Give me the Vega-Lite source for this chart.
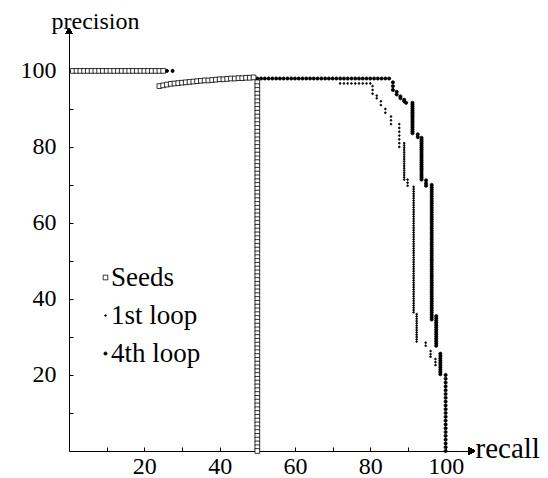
{
  "$schema": "https://vega.github.io/schema/vega-lite/v6.json",
  "width": 403,
  "height": 420,
  "autosize": {"type": "none"},
  "padding": {"left": 69, "top": 31, "right": 76, "bottom": 27},
  "background": "white",
  "config": {
    "view": {"stroke": null},
    "font": "Liberation Serif",
    "axis": {
      "grid": false,
      "domainColor": "black",
      "domainWidth": 1,
      "tickColor": "black",
      "tickWidth": 1,
      "tickSize": -4,
      "labelColor": "black",
      "titleColor": "black",
      "labelFont": "Liberation Serif",
      "titleFont": "Liberation Serif",
      "labelFontSize": 24,
      "titleFontWeight": "normal"
    }
  },
  "data": {
    "values": [
      {"series": "1st loop", "recall": 2, "precision": 100},
      {"series": "1st loop", "recall": 5, "precision": 100},
      {"series": "1st loop", "recall": 8, "precision": 100},
      {"series": "1st loop", "recall": 11, "precision": 100},
      {"series": "1st loop", "recall": 14, "precision": 100},
      {"series": "1st loop", "recall": 17, "precision": 100},
      {"series": "1st loop", "recall": 20, "precision": 100},
      {"series": "1st loop", "recall": 23, "precision": 100},
      {"series": "1st loop", "recall": 26, "precision": 100},
      {"series": "1st loop", "recall": 27.5, "precision": 100},
      {"series": "1st loop", "recall": 30, "precision": 96.9},
      {"series": "1st loop", "recall": 35, "precision": 97.4},
      {"series": "1st loop", "recall": 40, "precision": 97.8},
      {"series": "1st loop", "recall": 45, "precision": 98.1},
      {"series": "1st loop", "recall": 50, "precision": 98},
      {"series": "1st loop", "recall": 51, "precision": 98},
      {"series": "1st loop", "recall": 52, "precision": 98},
      {"series": "1st loop", "recall": 53, "precision": 98},
      {"series": "1st loop", "recall": 54, "precision": 98},
      {"series": "1st loop", "recall": 55, "precision": 98},
      {"series": "1st loop", "recall": 56, "precision": 98},
      {"series": "1st loop", "recall": 57, "precision": 98},
      {"series": "1st loop", "recall": 58, "precision": 98},
      {"series": "1st loop", "recall": 59, "precision": 98},
      {"series": "1st loop", "recall": 60, "precision": 98},
      {"series": "1st loop", "recall": 61, "precision": 98},
      {"series": "1st loop", "recall": 62, "precision": 98},
      {"series": "1st loop", "recall": 63, "precision": 98},
      {"series": "1st loop", "recall": 64, "precision": 98},
      {"series": "1st loop", "recall": 65, "precision": 98},
      {"series": "1st loop", "recall": 66, "precision": 98},
      {"series": "1st loop", "recall": 67, "precision": 98},
      {"series": "1st loop", "recall": 68, "precision": 98},
      {"series": "1st loop", "recall": 69, "precision": 98},
      {"series": "1st loop", "recall": 70, "precision": 98},
      {"series": "1st loop", "recall": 71, "precision": 98},
      {"series": "1st loop", "recall": 72, "precision": 96.7},
      {"series": "1st loop", "recall": 73, "precision": 96.7},
      {"series": "1st loop", "recall": 74, "precision": 96.7},
      {"series": "1st loop", "recall": 75, "precision": 96.7},
      {"series": "1st loop", "recall": 76, "precision": 96.7},
      {"series": "1st loop", "recall": 77, "precision": 96.7},
      {"series": "1st loop", "recall": 78, "precision": 96.7},
      {"series": "1st loop", "recall": 79, "precision": 96.7},
      {"series": "1st loop", "recall": 80, "precision": 96.7},
      {"series": "1st loop", "recall": 80.6, "precision": 96},
      {"series": "1st loop", "recall": 80.6, "precision": 95},
      {"series": "1st loop", "recall": 80.6, "precision": 94},
      {"series": "1st loop", "recall": 81.7, "precision": 93.5},
      {"series": "1st loop", "recall": 81.7, "precision": 92.8},
      {"series": "1st loop", "recall": 82.8, "precision": 92},
      {"series": "1st loop", "recall": 82.8, "precision": 91},
      {"series": "1st loop", "recall": 84, "precision": 90},
      {"series": "1st loop", "recall": 84, "precision": 89},
      {"series": "1st loop", "recall": 85.5, "precision": 88},
      {"series": "1st loop", "recall": 85.5, "precision": 87},
      {"series": "1st loop", "recall": 85.5, "precision": 86},
      {"series": "1st loop", "recall": 87.7, "precision": 86},
      {"series": "1st loop", "recall": 87.7, "precision": 85},
      {"series": "1st loop", "recall": 87.7, "precision": 84},
      {"series": "1st loop", "recall": 87.7, "precision": 83},
      {"series": "1st loop", "recall": 87.7, "precision": 82},
      {"series": "1st loop", "recall": 87.7, "precision": 81},
      {"series": "1st loop", "recall": 87.7, "precision": 80},
      {"series": "1st loop", "recall": 89, "precision": 81},
      {"series": "1st loop", "recall": 89, "precision": 80.4},
      {"series": "1st loop", "recall": 89, "precision": 79.8},
      {"series": "1st loop", "recall": 89, "precision": 79.2},
      {"series": "1st loop", "recall": 89, "precision": 78.6},
      {"series": "1st loop", "recall": 89, "precision": 78},
      {"series": "1st loop", "recall": 89, "precision": 77.4},
      {"series": "1st loop", "recall": 89, "precision": 76.8},
      {"series": "1st loop", "recall": 89, "precision": 76.2},
      {"series": "1st loop", "recall": 89, "precision": 75.6},
      {"series": "1st loop", "recall": 89, "precision": 75},
      {"series": "1st loop", "recall": 89, "precision": 74.4},
      {"series": "1st loop", "recall": 89, "precision": 73.8},
      {"series": "1st loop", "recall": 89, "precision": 73.2},
      {"series": "1st loop", "recall": 89, "precision": 72.6},
      {"series": "1st loop", "recall": 89, "precision": 72},
      {"series": "1st loop", "recall": 89, "precision": 71.4},
      {"series": "1st loop", "recall": 89.9, "precision": 71.4},
      {"series": "1st loop", "recall": 89.9, "precision": 70.6},
      {"series": "1st loop", "recall": 89.9, "precision": 69.8},
      {"series": "1st loop", "recall": 91.5, "precision": 69.5},
      {"series": "1st loop", "recall": 91.5, "precision": 68.9},
      {"series": "1st loop", "recall": 91.5, "precision": 68.3},
      {"series": "1st loop", "recall": 91.5, "precision": 67.7},
      {"series": "1st loop", "recall": 91.5, "precision": 67.1},
      {"series": "1st loop", "recall": 91.5, "precision": 66.5},
      {"series": "1st loop", "recall": 91.5, "precision": 65.9},
      {"series": "1st loop", "recall": 91.5, "precision": 65.3},
      {"series": "1st loop", "recall": 91.5, "precision": 64.7},
      {"series": "1st loop", "recall": 91.5, "precision": 64.1},
      {"series": "1st loop", "recall": 91.5, "precision": 63.5},
      {"series": "1st loop", "recall": 91.5, "precision": 62.9},
      {"series": "1st loop", "recall": 91.5, "precision": 62.3},
      {"series": "1st loop", "recall": 91.5, "precision": 61.7},
      {"series": "1st loop", "recall": 91.5, "precision": 61.1},
      {"series": "1st loop", "recall": 91.5, "precision": 60.5},
      {"series": "1st loop", "recall": 91.5, "precision": 59.9},
      {"series": "1st loop", "recall": 91.5, "precision": 59.3},
      {"series": "1st loop", "recall": 91.5, "precision": 58.7},
      {"series": "1st loop", "recall": 91.5, "precision": 58.1},
      {"series": "1st loop", "recall": 91.5, "precision": 57.5},
      {"series": "1st loop", "recall": 91.5, "precision": 56.9},
      {"series": "1st loop", "recall": 91.5, "precision": 56.3},
      {"series": "1st loop", "recall": 91.5, "precision": 55.7},
      {"series": "1st loop", "recall": 91.5, "precision": 55.1},
      {"series": "1st loop", "recall": 91.5, "precision": 54.5},
      {"series": "1st loop", "recall": 91.5, "precision": 53.9},
      {"series": "1st loop", "recall": 91.5, "precision": 53.3},
      {"series": "1st loop", "recall": 91.5, "precision": 52.7},
      {"series": "1st loop", "recall": 91.5, "precision": 52.1},
      {"series": "1st loop", "recall": 91.5, "precision": 51.5},
      {"series": "1st loop", "recall": 91.5, "precision": 50.9},
      {"series": "1st loop", "recall": 91.5, "precision": 50.3},
      {"series": "1st loop", "recall": 91.5, "precision": 49.7},
      {"series": "1st loop", "recall": 91.5, "precision": 49.1},
      {"series": "1st loop", "recall": 91.5, "precision": 48.5},
      {"series": "1st loop", "recall": 91.5, "precision": 47.9},
      {"series": "1st loop", "recall": 91.5, "precision": 47.3},
      {"series": "1st loop", "recall": 91.5, "precision": 46.7},
      {"series": "1st loop", "recall": 91.5, "precision": 46.1},
      {"series": "1st loop", "recall": 91.5, "precision": 45.5},
      {"series": "1st loop", "recall": 91.5, "precision": 44.9},
      {"series": "1st loop", "recall": 91.5, "precision": 44.3},
      {"series": "1st loop", "recall": 91.5, "precision": 43.7},
      {"series": "1st loop", "recall": 91.5, "precision": 43.1},
      {"series": "1st loop", "recall": 91.5, "precision": 42.5},
      {"series": "1st loop", "recall": 91.5, "precision": 41.9},
      {"series": "1st loop", "recall": 91.5, "precision": 41.3},
      {"series": "1st loop", "recall": 91.5, "precision": 40.7},
      {"series": "1st loop", "recall": 91.5, "precision": 40.1},
      {"series": "1st loop", "recall": 91.5, "precision": 39.5},
      {"series": "1st loop", "recall": 91.5, "precision": 38.9},
      {"series": "1st loop", "recall": 91.5, "precision": 38.3},
      {"series": "1st loop", "recall": 91.5, "precision": 37.7},
      {"series": "1st loop", "recall": 91.5, "precision": 37.1},
      {"series": "1st loop", "recall": 91.5, "precision": 36.5},
      {"series": "1st loop", "recall": 92.3, "precision": 36},
      {"series": "1st loop", "recall": 92.3, "precision": 35.4},
      {"series": "1st loop", "recall": 92.3, "precision": 34.8},
      {"series": "1st loop", "recall": 92.3, "precision": 34.2},
      {"series": "1st loop", "recall": 92.3, "precision": 33.6},
      {"series": "1st loop", "recall": 92.3, "precision": 33},
      {"series": "1st loop", "recall": 92.3, "precision": 32.4},
      {"series": "1st loop", "recall": 92.3, "precision": 31.8},
      {"series": "1st loop", "recall": 92.3, "precision": 31.2},
      {"series": "1st loop", "recall": 92.3, "precision": 30.6},
      {"series": "1st loop", "recall": 92.3, "precision": 30},
      {"series": "1st loop", "recall": 92.3, "precision": 29.4},
      {"series": "1st loop", "recall": 92.3, "precision": 28.8},
      {"series": "1st loop", "recall": 94.7, "precision": 28.5},
      {"series": "1st loop", "recall": 94.7, "precision": 27.7},
      {"series": "1st loop", "recall": 96, "precision": 26.3},
      {"series": "1st loop", "recall": 96, "precision": 25.5},
      {"series": "1st loop", "recall": 96, "precision": 24.8},
      {"series": "1st loop", "recall": 97.3, "precision": 24.2},
      {"series": "1st loop", "recall": 97.3, "precision": 23.4},
      {"series": "1st loop", "recall": 97.3, "precision": 22.6},
      {"series": "1st loop", "recall": 98.6, "precision": 21.8},
      {"series": "1st loop", "recall": 98.6, "precision": 21},
      {"series": "1st loop", "recall": 100, "precision": 20},

      {"series": "4th loop", "recall": 1, "precision": 100},
      {"series": "4th loop", "recall": 4, "precision": 100},
      {"series": "4th loop", "recall": 7, "precision": 100},
      {"series": "4th loop", "recall": 10, "precision": 100},
      {"series": "4th loop", "recall": 13, "precision": 100},
      {"series": "4th loop", "recall": 16, "precision": 100},
      {"series": "4th loop", "recall": 19, "precision": 100},
      {"series": "4th loop", "recall": 22, "precision": 100},
      {"series": "4th loop", "recall": 25, "precision": 100},
      {"series": "4th loop", "recall": 26, "precision": 100},
      {"series": "4th loop", "recall": 27.5, "precision": 100},
      {"series": "4th loop", "recall": 30, "precision": 96.9},
      {"series": "4th loop", "recall": 35, "precision": 97.4},
      {"series": "4th loop", "recall": 40, "precision": 97.8},
      {"series": "4th loop", "recall": 45, "precision": 98.1},
      {"series": "4th loop", "recall": 50, "precision": 98},
      {"series": "4th loop", "recall": 51, "precision": 98},
      {"series": "4th loop", "recall": 52, "precision": 98},
      {"series": "4th loop", "recall": 53, "precision": 98},
      {"series": "4th loop", "recall": 54, "precision": 98},
      {"series": "4th loop", "recall": 55, "precision": 98},
      {"series": "4th loop", "recall": 56, "precision": 98},
      {"series": "4th loop", "recall": 57, "precision": 98},
      {"series": "4th loop", "recall": 58, "precision": 98},
      {"series": "4th loop", "recall": 59, "precision": 98},
      {"series": "4th loop", "recall": 60, "precision": 98},
      {"series": "4th loop", "recall": 61, "precision": 98},
      {"series": "4th loop", "recall": 62, "precision": 98},
      {"series": "4th loop", "recall": 63, "precision": 98},
      {"series": "4th loop", "recall": 64, "precision": 98},
      {"series": "4th loop", "recall": 65, "precision": 98},
      {"series": "4th loop", "recall": 66, "precision": 98},
      {"series": "4th loop", "recall": 67, "precision": 98},
      {"series": "4th loop", "recall": 68, "precision": 98},
      {"series": "4th loop", "recall": 69, "precision": 98},
      {"series": "4th loop", "recall": 70, "precision": 98},
      {"series": "4th loop", "recall": 71, "precision": 98},
      {"series": "4th loop", "recall": 72, "precision": 98},
      {"series": "4th loop", "recall": 73, "precision": 98},
      {"series": "4th loop", "recall": 74, "precision": 98},
      {"series": "4th loop", "recall": 75, "precision": 98},
      {"series": "4th loop", "recall": 76, "precision": 98},
      {"series": "4th loop", "recall": 77, "precision": 98},
      {"series": "4th loop", "recall": 78, "precision": 98},
      {"series": "4th loop", "recall": 79, "precision": 98},
      {"series": "4th loop", "recall": 80, "precision": 98},
      {"series": "4th loop", "recall": 81, "precision": 98},
      {"series": "4th loop", "recall": 82, "precision": 98},
      {"series": "4th loop", "recall": 83, "precision": 98},
      {"series": "4th loop", "recall": 84, "precision": 98},
      {"series": "4th loop", "recall": 85, "precision": 98},
      {"series": "4th loop", "recall": 86, "precision": 97},
      {"series": "4th loop", "recall": 86, "precision": 96},
      {"series": "4th loop", "recall": 86, "precision": 95},
      {"series": "4th loop", "recall": 87, "precision": 94.5},
      {"series": "4th loop", "recall": 87, "precision": 93.8},
      {"series": "4th loop", "recall": 88, "precision": 93.3},
      {"series": "4th loop", "recall": 88, "precision": 92.8},
      {"series": "4th loop", "recall": 89, "precision": 92.4},
      {"series": "4th loop", "recall": 89, "precision": 92},
      {"series": "4th loop", "recall": 89.5, "precision": 91.6},
      {"series": "4th loop", "recall": 91.2, "precision": 91.6},
      {"series": "4th loop", "recall": 91.2, "precision": 91.1},
      {"series": "4th loop", "recall": 91.2, "precision": 90.6},
      {"series": "4th loop", "recall": 91.2, "precision": 90.1},
      {"series": "4th loop", "recall": 91.2, "precision": 89.6},
      {"series": "4th loop", "recall": 91.2, "precision": 89.1},
      {"series": "4th loop", "recall": 91.2, "precision": 88.6},
      {"series": "4th loop", "recall": 91.2, "precision": 88.1},
      {"series": "4th loop", "recall": 91.2, "precision": 87.6},
      {"series": "4th loop", "recall": 91.2, "precision": 87.1},
      {"series": "4th loop", "recall": 91.2, "precision": 86.6},
      {"series": "4th loop", "recall": 91.2, "precision": 86.1},
      {"series": "4th loop", "recall": 91.2, "precision": 85.6},
      {"series": "4th loop", "recall": 91.2, "precision": 85.1},
      {"series": "4th loop", "recall": 91.2, "precision": 84.6},
      {"series": "4th loop", "recall": 91.2, "precision": 84.1},
      {"series": "4th loop", "recall": 91.2, "precision": 83.6},
      {"series": "4th loop", "recall": 92.6, "precision": 83.3},
      {"series": "4th loop", "recall": 92.6, "precision": 82.6},
      {"series": "4th loop", "recall": 93.6, "precision": 82.4},
      {"series": "4th loop", "recall": 93.6, "precision": 81.9},
      {"series": "4th loop", "recall": 93.6, "precision": 81.4},
      {"series": "4th loop", "recall": 93.6, "precision": 80.9},
      {"series": "4th loop", "recall": 93.6, "precision": 80.4},
      {"series": "4th loop", "recall": 93.6, "precision": 79.9},
      {"series": "4th loop", "recall": 93.6, "precision": 79.4},
      {"series": "4th loop", "recall": 93.6, "precision": 78.9},
      {"series": "4th loop", "recall": 93.6, "precision": 78.4},
      {"series": "4th loop", "recall": 93.6, "precision": 77.9},
      {"series": "4th loop", "recall": 93.6, "precision": 77.4},
      {"series": "4th loop", "recall": 93.6, "precision": 76.9},
      {"series": "4th loop", "recall": 93.6, "precision": 76.4},
      {"series": "4th loop", "recall": 93.6, "precision": 75.9},
      {"series": "4th loop", "recall": 93.6, "precision": 75.4},
      {"series": "4th loop", "recall": 93.6, "precision": 74.9},
      {"series": "4th loop", "recall": 93.6, "precision": 74.4},
      {"series": "4th loop", "recall": 93.6, "precision": 73.9},
      {"series": "4th loop", "recall": 93.6, "precision": 73.4},
      {"series": "4th loop", "recall": 93.6, "precision": 72.9},
      {"series": "4th loop", "recall": 93.6, "precision": 72.4},
      {"series": "4th loop", "recall": 93.6, "precision": 71.9},
      {"series": "4th loop", "recall": 93.6, "precision": 71.4},
      {"series": "4th loop", "recall": 94.8, "precision": 71.2},
      {"series": "4th loop", "recall": 94.8, "precision": 70.4},
      {"series": "4th loop", "recall": 94.8, "precision": 69.8},
      {"series": "4th loop", "recall": 96.3, "precision": 70},
      {"series": "4th loop", "recall": 96.3, "precision": 69.4},
      {"series": "4th loop", "recall": 96.3, "precision": 68.8},
      {"series": "4th loop", "recall": 96.3, "precision": 68.2},
      {"series": "4th loop", "recall": 96.3, "precision": 67.6},
      {"series": "4th loop", "recall": 96.3, "precision": 67},
      {"series": "4th loop", "recall": 96.3, "precision": 66.4},
      {"series": "4th loop", "recall": 96.3, "precision": 65.8},
      {"series": "4th loop", "recall": 96.3, "precision": 65.2},
      {"series": "4th loop", "recall": 96.3, "precision": 64.6},
      {"series": "4th loop", "recall": 96.3, "precision": 64},
      {"series": "4th loop", "recall": 96.3, "precision": 63.4},
      {"series": "4th loop", "recall": 96.3, "precision": 62.8},
      {"series": "4th loop", "recall": 96.3, "precision": 62.2},
      {"series": "4th loop", "recall": 96.3, "precision": 61.6},
      {"series": "4th loop", "recall": 96.3, "precision": 61},
      {"series": "4th loop", "recall": 96.3, "precision": 60.4},
      {"series": "4th loop", "recall": 96.3, "precision": 59.8},
      {"series": "4th loop", "recall": 96.3, "precision": 59.2},
      {"series": "4th loop", "recall": 96.3, "precision": 58.6},
      {"series": "4th loop", "recall": 96.3, "precision": 58},
      {"series": "4th loop", "recall": 96.3, "precision": 57.4},
      {"series": "4th loop", "recall": 96.3, "precision": 56.8},
      {"series": "4th loop", "recall": 96.3, "precision": 56.2},
      {"series": "4th loop", "recall": 96.3, "precision": 55.6},
      {"series": "4th loop", "recall": 96.3, "precision": 55},
      {"series": "4th loop", "recall": 96.3, "precision": 54.4},
      {"series": "4th loop", "recall": 96.3, "precision": 53.8},
      {"series": "4th loop", "recall": 96.3, "precision": 53.2},
      {"series": "4th loop", "recall": 96.3, "precision": 52.6},
      {"series": "4th loop", "recall": 96.3, "precision": 52},
      {"series": "4th loop", "recall": 96.3, "precision": 51.4},
      {"series": "4th loop", "recall": 96.3, "precision": 50.8},
      {"series": "4th loop", "recall": 96.3, "precision": 50.2},
      {"series": "4th loop", "recall": 96.3, "precision": 49.6},
      {"series": "4th loop", "recall": 96.3, "precision": 49},
      {"series": "4th loop", "recall": 96.3, "precision": 48.4},
      {"series": "4th loop", "recall": 96.3, "precision": 47.8},
      {"series": "4th loop", "recall": 96.3, "precision": 47.2},
      {"series": "4th loop", "recall": 96.3, "precision": 46.6},
      {"series": "4th loop", "recall": 96.3, "precision": 46},
      {"series": "4th loop", "recall": 96.3, "precision": 45.4},
      {"series": "4th loop", "recall": 96.3, "precision": 44.8},
      {"series": "4th loop", "recall": 96.3, "precision": 44.2},
      {"series": "4th loop", "recall": 96.3, "precision": 43.6},
      {"series": "4th loop", "recall": 96.3, "precision": 43},
      {"series": "4th loop", "recall": 96.3, "precision": 42.4},
      {"series": "4th loop", "recall": 96.3, "precision": 41.8},
      {"series": "4th loop", "recall": 96.3, "precision": 41.2},
      {"series": "4th loop", "recall": 96.3, "precision": 40.6},
      {"series": "4th loop", "recall": 96.3, "precision": 40},
      {"series": "4th loop", "recall": 96.3, "precision": 39.4},
      {"series": "4th loop", "recall": 96.3, "precision": 38.8},
      {"series": "4th loop", "recall": 96.3, "precision": 38.2},
      {"series": "4th loop", "recall": 96.3, "precision": 37.6},
      {"series": "4th loop", "recall": 96.3, "precision": 37},
      {"series": "4th loop", "recall": 96.3, "precision": 36.4},
      {"series": "4th loop", "recall": 96.3, "precision": 35.8},
      {"series": "4th loop", "recall": 96.3, "precision": 35.2},
      {"series": "4th loop", "recall": 96.3, "precision": 34.6},
      {"series": "4th loop", "recall": 97.5, "precision": 35.5},
      {"series": "4th loop", "recall": 97.5, "precision": 34.9},
      {"series": "4th loop", "recall": 97.5, "precision": 34.3},
      {"series": "4th loop", "recall": 97.5, "precision": 33.7},
      {"series": "4th loop", "recall": 97.5, "precision": 33.1},
      {"series": "4th loop", "recall": 97.5, "precision": 32.5},
      {"series": "4th loop", "recall": 97.5, "precision": 31.9},
      {"series": "4th loop", "recall": 97.5, "precision": 31.3},
      {"series": "4th loop", "recall": 97.5, "precision": 30.7},
      {"series": "4th loop", "recall": 97.5, "precision": 30.1},
      {"series": "4th loop", "recall": 97.5, "precision": 29.5},
      {"series": "4th loop", "recall": 97.5, "precision": 28.9},
      {"series": "4th loop", "recall": 97.5, "precision": 28.3},
      {"series": "4th loop", "recall": 97.5, "precision": 27.7},
      {"series": "4th loop", "recall": 98.6, "precision": 25.6},
      {"series": "4th loop", "recall": 98.6, "precision": 25},
      {"series": "4th loop", "recall": 98.6, "precision": 24.4},
      {"series": "4th loop", "recall": 98.6, "precision": 23.8},
      {"series": "4th loop", "recall": 98.6, "precision": 23.2},
      {"series": "4th loop", "recall": 98.6, "precision": 22.6},
      {"series": "4th loop", "recall": 98.6, "precision": 22},
      {"series": "4th loop", "recall": 98.6, "precision": 21.4},
      {"series": "4th loop", "recall": 98.6, "precision": 20.8},
      {"series": "4th loop", "recall": 98.6, "precision": 20.2},
      {"series": "4th loop", "recall": 100, "precision": 20},
      {"series": "4th loop", "recall": 100, "precision": 19},
      {"series": "4th loop", "recall": 100, "precision": 18},
      {"series": "4th loop", "recall": 100, "precision": 17},
      {"series": "4th loop", "recall": 100, "precision": 16},
      {"series": "4th loop", "recall": 100, "precision": 15},
      {"series": "4th loop", "recall": 100, "precision": 14},
      {"series": "4th loop", "recall": 100, "precision": 13},
      {"series": "4th loop", "recall": 100, "precision": 12},
      {"series": "4th loop", "recall": 100, "precision": 11},
      {"series": "4th loop", "recall": 100, "precision": 10},
      {"series": "4th loop", "recall": 100, "precision": 9},
      {"series": "4th loop", "recall": 100, "precision": 8},
      {"series": "4th loop", "recall": 100, "precision": 7},
      {"series": "4th loop", "recall": 100, "precision": 6},
      {"series": "4th loop", "recall": 100, "precision": 5},
      {"series": "4th loop", "recall": 100, "precision": 4},
      {"series": "4th loop", "recall": 100, "precision": 3},
      {"series": "4th loop", "recall": 100, "precision": 2},
      {"series": "4th loop", "recall": 100, "precision": 1},
      {"series": "4th loop", "recall": 100, "precision": 0},

      {"series": "Seeds", "recall": 1, "precision": 100},
      {"series": "Seeds", "recall": 2, "precision": 100},
      {"series": "Seeds", "recall": 3, "precision": 100},
      {"series": "Seeds", "recall": 4, "precision": 100},
      {"series": "Seeds", "recall": 5, "precision": 100},
      {"series": "Seeds", "recall": 6, "precision": 100},
      {"series": "Seeds", "recall": 7, "precision": 100},
      {"series": "Seeds", "recall": 8, "precision": 100},
      {"series": "Seeds", "recall": 9, "precision": 100},
      {"series": "Seeds", "recall": 10, "precision": 100},
      {"series": "Seeds", "recall": 11, "precision": 100},
      {"series": "Seeds", "recall": 12, "precision": 100},
      {"series": "Seeds", "recall": 13, "precision": 100},
      {"series": "Seeds", "recall": 14, "precision": 100},
      {"series": "Seeds", "recall": 15, "precision": 100},
      {"series": "Seeds", "recall": 16, "precision": 100},
      {"series": "Seeds", "recall": 17, "precision": 100},
      {"series": "Seeds", "recall": 18, "precision": 100},
      {"series": "Seeds", "recall": 19, "precision": 100},
      {"series": "Seeds", "recall": 20, "precision": 100},
      {"series": "Seeds", "recall": 21, "precision": 100},
      {"series": "Seeds", "recall": 22, "precision": 100},
      {"series": "Seeds", "recall": 23, "precision": 100},
      {"series": "Seeds", "recall": 24, "precision": 100},
      {"series": "Seeds", "recall": 25, "precision": 100},
      {"series": "Seeds", "recall": 24, "precision": 96.0},
      {"series": "Seeds", "recall": 25, "precision": 96.2},
      {"series": "Seeds", "recall": 26, "precision": 96.4},
      {"series": "Seeds", "recall": 27, "precision": 96.6},
      {"series": "Seeds", "recall": 28, "precision": 96.7},
      {"series": "Seeds", "recall": 29, "precision": 96.8},
      {"series": "Seeds", "recall": 30, "precision": 96.9},
      {"series": "Seeds", "recall": 31, "precision": 97.0},
      {"series": "Seeds", "recall": 32, "precision": 97.1},
      {"series": "Seeds", "recall": 33, "precision": 97.2},
      {"series": "Seeds", "recall": 34, "precision": 97.3},
      {"series": "Seeds", "recall": 35, "precision": 97.4},
      {"series": "Seeds", "recall": 36, "precision": 97.5},
      {"series": "Seeds", "recall": 37, "precision": 97.5},
      {"series": "Seeds", "recall": 38, "precision": 97.6},
      {"series": "Seeds", "recall": 39, "precision": 97.7},
      {"series": "Seeds", "recall": 40, "precision": 97.8},
      {"series": "Seeds", "recall": 41, "precision": 97.8},
      {"series": "Seeds", "recall": 42, "precision": 97.9},
      {"series": "Seeds", "recall": 43, "precision": 98.0},
      {"series": "Seeds", "recall": 44, "precision": 98.0},
      {"series": "Seeds", "recall": 45, "precision": 98.1},
      {"series": "Seeds", "recall": 46, "precision": 98.1},
      {"series": "Seeds", "recall": 47, "precision": 98.2},
      {"series": "Seeds", "recall": 48, "precision": 98.2},
      {"series": "Seeds", "recall": 49, "precision": 98.3},
      {"series": "Seeds", "recall": 50, "precision": 97},
      {"series": "Seeds", "recall": 50, "precision": 96},
      {"series": "Seeds", "recall": 50, "precision": 95},
      {"series": "Seeds", "recall": 50, "precision": 94},
      {"series": "Seeds", "recall": 50, "precision": 93},
      {"series": "Seeds", "recall": 50, "precision": 92},
      {"series": "Seeds", "recall": 50, "precision": 91},
      {"series": "Seeds", "recall": 50, "precision": 90},
      {"series": "Seeds", "recall": 50, "precision": 89},
      {"series": "Seeds", "recall": 50, "precision": 88},
      {"series": "Seeds", "recall": 50, "precision": 87},
      {"series": "Seeds", "recall": 50, "precision": 86},
      {"series": "Seeds", "recall": 50, "precision": 85},
      {"series": "Seeds", "recall": 50, "precision": 84},
      {"series": "Seeds", "recall": 50, "precision": 83},
      {"series": "Seeds", "recall": 50, "precision": 82},
      {"series": "Seeds", "recall": 50, "precision": 81},
      {"series": "Seeds", "recall": 50, "precision": 80},
      {"series": "Seeds", "recall": 50, "precision": 79},
      {"series": "Seeds", "recall": 50, "precision": 78},
      {"series": "Seeds", "recall": 50, "precision": 77},
      {"series": "Seeds", "recall": 50, "precision": 76},
      {"series": "Seeds", "recall": 50, "precision": 75},
      {"series": "Seeds", "recall": 50, "precision": 74},
      {"series": "Seeds", "recall": 50, "precision": 73},
      {"series": "Seeds", "recall": 50, "precision": 72},
      {"series": "Seeds", "recall": 50, "precision": 71},
      {"series": "Seeds", "recall": 50, "precision": 70},
      {"series": "Seeds", "recall": 50, "precision": 69},
      {"series": "Seeds", "recall": 50, "precision": 68},
      {"series": "Seeds", "recall": 50, "precision": 67},
      {"series": "Seeds", "recall": 50, "precision": 66},
      {"series": "Seeds", "recall": 50, "precision": 65},
      {"series": "Seeds", "recall": 50, "precision": 64},
      {"series": "Seeds", "recall": 50, "precision": 63},
      {"series": "Seeds", "recall": 50, "precision": 62},
      {"series": "Seeds", "recall": 50, "precision": 61},
      {"series": "Seeds", "recall": 50, "precision": 60},
      {"series": "Seeds", "recall": 50, "precision": 59},
      {"series": "Seeds", "recall": 50, "precision": 58},
      {"series": "Seeds", "recall": 50, "precision": 57},
      {"series": "Seeds", "recall": 50, "precision": 56},
      {"series": "Seeds", "recall": 50, "precision": 55},
      {"series": "Seeds", "recall": 50, "precision": 54},
      {"series": "Seeds", "recall": 50, "precision": 53},
      {"series": "Seeds", "recall": 50, "precision": 52},
      {"series": "Seeds", "recall": 50, "precision": 51},
      {"series": "Seeds", "recall": 50, "precision": 50},
      {"series": "Seeds", "recall": 50, "precision": 49},
      {"series": "Seeds", "recall": 50, "precision": 48},
      {"series": "Seeds", "recall": 50, "precision": 47},
      {"series": "Seeds", "recall": 50, "precision": 46},
      {"series": "Seeds", "recall": 50, "precision": 45},
      {"series": "Seeds", "recall": 50, "precision": 44},
      {"series": "Seeds", "recall": 50, "precision": 43},
      {"series": "Seeds", "recall": 50, "precision": 42},
      {"series": "Seeds", "recall": 50, "precision": 41},
      {"series": "Seeds", "recall": 50, "precision": 40},
      {"series": "Seeds", "recall": 50, "precision": 39},
      {"series": "Seeds", "recall": 50, "precision": 38},
      {"series": "Seeds", "recall": 50, "precision": 37},
      {"series": "Seeds", "recall": 50, "precision": 36},
      {"series": "Seeds", "recall": 50, "precision": 35},
      {"series": "Seeds", "recall": 50, "precision": 34},
      {"series": "Seeds", "recall": 50, "precision": 33},
      {"series": "Seeds", "recall": 50, "precision": 32},
      {"series": "Seeds", "recall": 50, "precision": 31},
      {"series": "Seeds", "recall": 50, "precision": 30},
      {"series": "Seeds", "recall": 50, "precision": 29},
      {"series": "Seeds", "recall": 50, "precision": 28},
      {"series": "Seeds", "recall": 50, "precision": 27},
      {"series": "Seeds", "recall": 50, "precision": 26},
      {"series": "Seeds", "recall": 50, "precision": 25},
      {"series": "Seeds", "recall": 50, "precision": 24},
      {"series": "Seeds", "recall": 50, "precision": 23},
      {"series": "Seeds", "recall": 50, "precision": 22},
      {"series": "Seeds", "recall": 50, "precision": 21},
      {"series": "Seeds", "recall": 50, "precision": 20},
      {"series": "Seeds", "recall": 50, "precision": 19},
      {"series": "Seeds", "recall": 50, "precision": 18},
      {"series": "Seeds", "recall": 50, "precision": 17},
      {"series": "Seeds", "recall": 50, "precision": 16},
      {"series": "Seeds", "recall": 50, "precision": 15},
      {"series": "Seeds", "recall": 50, "precision": 14},
      {"series": "Seeds", "recall": 50, "precision": 13},
      {"series": "Seeds", "recall": 50, "precision": 12},
      {"series": "Seeds", "recall": 50, "precision": 11},
      {"series": "Seeds", "recall": 50, "precision": 10},
      {"series": "Seeds", "recall": 50, "precision": 9},
      {"series": "Seeds", "recall": 50, "precision": 8},
      {"series": "Seeds", "recall": 50, "precision": 7},
      {"series": "Seeds", "recall": 50, "precision": 6},
      {"series": "Seeds", "recall": 50, "precision": 5},
      {"series": "Seeds", "recall": 50, "precision": 4},
      {"series": "Seeds", "recall": 50, "precision": 3},
      {"series": "Seeds", "recall": 50, "precision": 2},
      {"series": "Seeds", "recall": 50, "precision": 1},
      {"series": "Seeds", "recall": 50, "precision": 0}
    ]
  },
  "layer": [
    {
      "mark": {"type": "point", "opacity": 1, "stroke": "black", "strokeWidth": 0.8},
      "encoding": {
        "x": {
          "field": "recall",
          "type": "quantitative",
          "scale": {"domain": [0, 107], "nice": false, "zero": false},
          "axis": {
            "title": "recall",
            "titleFontSize": 29,
            "values": [10, 20, 30, 40, 50, 60, 70, 80, 90, 100],
            "labelExpr": "datum.value % 20 == 0 ? datum.label : ''",
            "labelPadding": 7,
            "titleAngle": 0,
            "titleAlign": "left",
            "titleBaseline": "middle",
            "titleX": 406,
            "titleY": -3
          }
        },
        "y": {
          "field": "precision",
          "type": "quantitative",
          "scale": {"domain": [0, 110.5], "nice": false, "zero": false},
          "axis": {
            "title": "precision",
            "titleFontSize": 24,
            "values": [10, 20, 30, 40, 50, 60, 70, 80, 90, 100],
            "labelExpr": "datum.value % 20 == 0 ? datum.label : ''",
            "labelPadding": 17,
            "titleAngle": 0,
            "titleAlign": "left",
            "titleBaseline": "middle",
            "titleX": -18,
            "titleY": -10
          }
        },
        "shape": {
          "field": "series",
          "type": "nominal",
          "scale": {"domain": ["Seeds", "1st loop", "4th loop"], "range": ["square", "circle", "circle"]},
          "legend": {
            "title": null,
            "orient": "none",
            "legendX": 23,
            "legendY": 233,
            "padding": 0,
            "labelFont": "Liberation Serif",
            "labelFontSize": 27,
            "labelColor": "black",
            "labelOffset": -8,
            "rowPadding": 10,
            "symbolStrokeColor": "black",
            "symbolStrokeWidth": 0.8
          }
        },
        "size": {
          "field": "series",
          "type": "nominal",
          "scale": {"type": "ordinal", "domain": ["Seeds", "1st loop", "4th loop"], "range": [22, 3, 10]}
        },
        "fill": {
          "field": "series",
          "type": "nominal",
          "scale": {"domain": ["Seeds", "1st loop", "4th loop"], "range": ["white", "black", "black"]}
        }
      }
    },
    {
      "mark": {"type": "point", "shape": "triangle-right", "filled": true, "color": "black", "opacity": 1, "size": 50},
      "encoding": {
        "x": {"datum": 107, "type": "quantitative"},
        "y": {"datum": 0, "type": "quantitative"}
      }
    },
    {
      "mark": {"type": "point", "shape": "triangle-up", "filled": true, "color": "black", "opacity": 1, "size": 50},
      "encoding": {
        "x": {"datum": 0, "type": "quantitative"},
        "y": {"datum": 110.5, "type": "quantitative"}
      }
    }
  ]
}
